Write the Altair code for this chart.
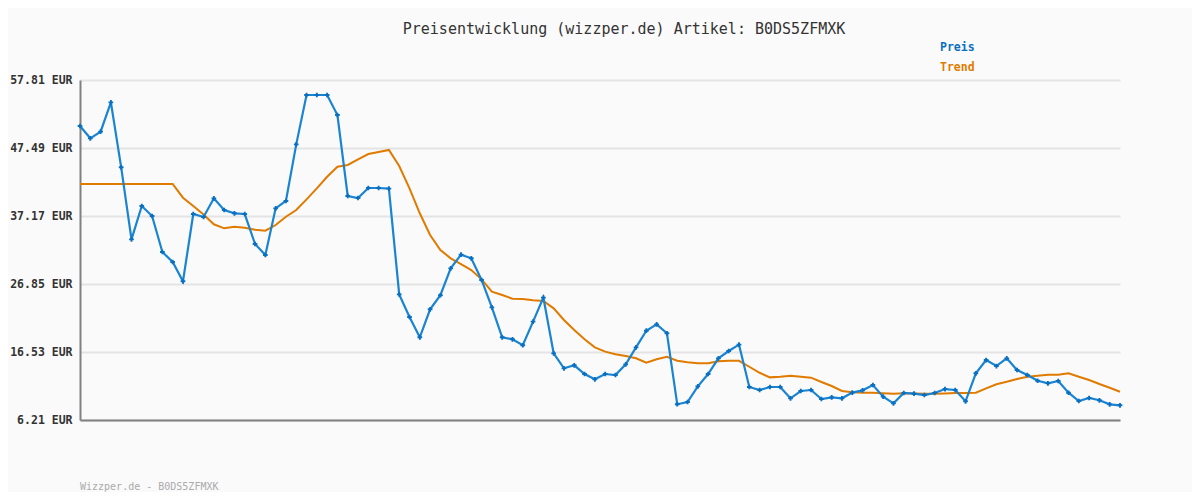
import altair as alt
import pandas as pd

price = [50.83, 48.96, 49.97, 54.42, 44.56, 33.63, 38.69, 37.17, 31.71, 30.19,
         27.26, 37.47, 37.02, 39.85, 38.08, 37.58, 37.47, 32.92, 31.25, 38.33,
         39.45, 48.04, 55.53, 55.53, 55.53, 52.50, 40.21, 39.90, 41.42, 41.42,
         41.32, 25.28, 21.84, 18.76, 23.01, 25.14, 29.23, 31.30, 30.75, 27.46,
         23.31, 18.76, 18.46, 17.55, 21.14, 24.78, 16.33, 14.05, 14.51, 13.19,
         12.38, 13.19, 13.04, 14.66, 17.24, 19.76, 20.73, 19.37, 8.60, 8.94,
         11.32, 13.19, 15.57, 16.68, 17.64, 11.22, 10.76, 11.22, 11.22, 9.50,
         10.61, 10.76, 9.40, 9.65, 9.50, 10.36, 10.71, 11.52, 9.75, 8.74,
         10.31, 10.20, 10.00, 10.31, 10.91, 10.76, 9.05, 13.30, 15.31, 14.40,
         15.57, 13.80, 13.04, 12.17, 11.78, 12.13, 10.35, 9.09, 9.55, 9.20,
         8.59, 8.44]

trend = [42.03, 42.03, 42.03, 42.03, 42.03, 42.03, 42.03, 42.03, 42.03, 42.03,
         39.95, 38.70, 37.40, 35.91, 35.30, 35.55, 35.40, 35.10, 34.95, 35.80,
         37.06, 38.08, 39.70, 41.37, 43.13, 44.65, 44.91, 45.77, 46.58, 46.88,
         47.19, 44.76, 41.37, 37.58, 34.29, 32.01, 30.75, 29.85, 28.97, 27.56,
         25.68, 25.18, 24.62, 24.57, 24.37, 24.27, 23.16, 21.39, 19.87, 18.46,
         17.24, 16.58, 16.18, 15.92, 15.57, 14.90, 15.42, 15.81, 15.20, 14.96,
         14.81, 14.81, 15.11, 15.20, 15.20, 14.29, 13.38, 12.68, 12.78, 12.93,
         12.78, 12.63, 11.98, 11.37, 10.61, 10.41, 10.35, 10.35, 10.26, 10.20,
         10.26, 10.25, 10.20, 10.20, 10.25, 10.30, 10.30, 10.35, 11.02, 11.63,
         12.02, 12.43, 12.78, 12.93, 13.08, 13.08, 13.30, 12.78, 12.28, 11.67,
         11.11, 10.50]

y_ticks = [6.21, 16.53, 26.85, 37.17, 47.49, 57.81]
title_text = "Preisentwicklung (wizzper.de) Artikel: B0DS5ZFMXK"
footer_text = "Wizzper.de - B0DS5ZFMXK"
legend_labels = ["Preis", "Trend"]

BLUE = "#1a84d2"
BLUE_PT = "#0a6fc0"
ORANGE = "#e07b00"
MONO = "DejaVu Sans Mono"

df = pd.DataFrame({"idx": list(range(len(price))), "price": price, "trend": trend})

x_enc = alt.X("idx:Q", scale=alt.Scale(domain=[0, len(price) - 1], nice=False, zero=False),
              axis=alt.Axis(title=None, labels=False, ticks=False, grid=False,
                            domainColor="#808080", domainWidth=2))
y_scale = alt.Scale(domain=[y_ticks[0], y_ticks[-1]], nice=False, zero=False)
y_axis = alt.Axis(title=None, values=y_ticks, ticks=False, grid=True,
                  gridColor="#e4e4e4", gridWidth=2,
                  domainColor="#808080", domainWidth=2,
                  labelExpr="format(datum.value, '.2f') + ' EUR'",
                  labelFont=MONO, labelFontSize=11.5, labelFontWeight="bold",
                  labelColor="#333333", labelPadding=8)

base = alt.Chart(df)

trend_line = base.mark_line(color=ORANGE, strokeWidth=2).encode(
    x=x_enc, y=alt.Y("trend:Q", scale=y_scale, axis=y_axis))
price_line = base.mark_line(color=BLUE, strokeWidth=2.2).encode(
    x="idx:Q", y=alt.Y("price:Q", scale=y_scale))
price_pts = base.mark_point(shape="cross", filled=True, size=22, color=BLUE_PT, opacity=1).encode(
    x="idx:Q", y=alt.Y("price:Q", scale=y_scale))

def text_layer(txt, xv, yv, color, size, weight="normal", align="left"):
    return alt.Chart(pd.DataFrame({"t": [txt]})).mark_text(
        font=MONO, fontSize=size, fontWeight=weight, color=color, align=align,
        baseline="middle").encode(x=alt.value(xv), y=alt.value(yv), text="t:N")

title = text_layer(title_text, 544, -51, "#333333", 15, align="center")
leg1 = text_layer(legend_labels[0], 860, -32, BLUE_PT, 11.5, "bold")
leg2 = text_layer(legend_labels[1], 860, -12, ORANGE, 11.5, "bold")
footer = text_layer(footer_text, 0, 407, "#aaaaaa", 10)

chart = alt.layer(trend_line, price_line, price_pts, title, leg1, leg2, footer).properties(
    width=1040, height=340,
    padding={"left": 72, "top": 72, "right": 72, "bottom": 72},
    autosize=alt.AutoSizeParams(type="none"),
    background="#fafafa",
).configure_view(stroke=None)

chart.save("out.html", embed_options={"renderer": "svg", "actions": False})
